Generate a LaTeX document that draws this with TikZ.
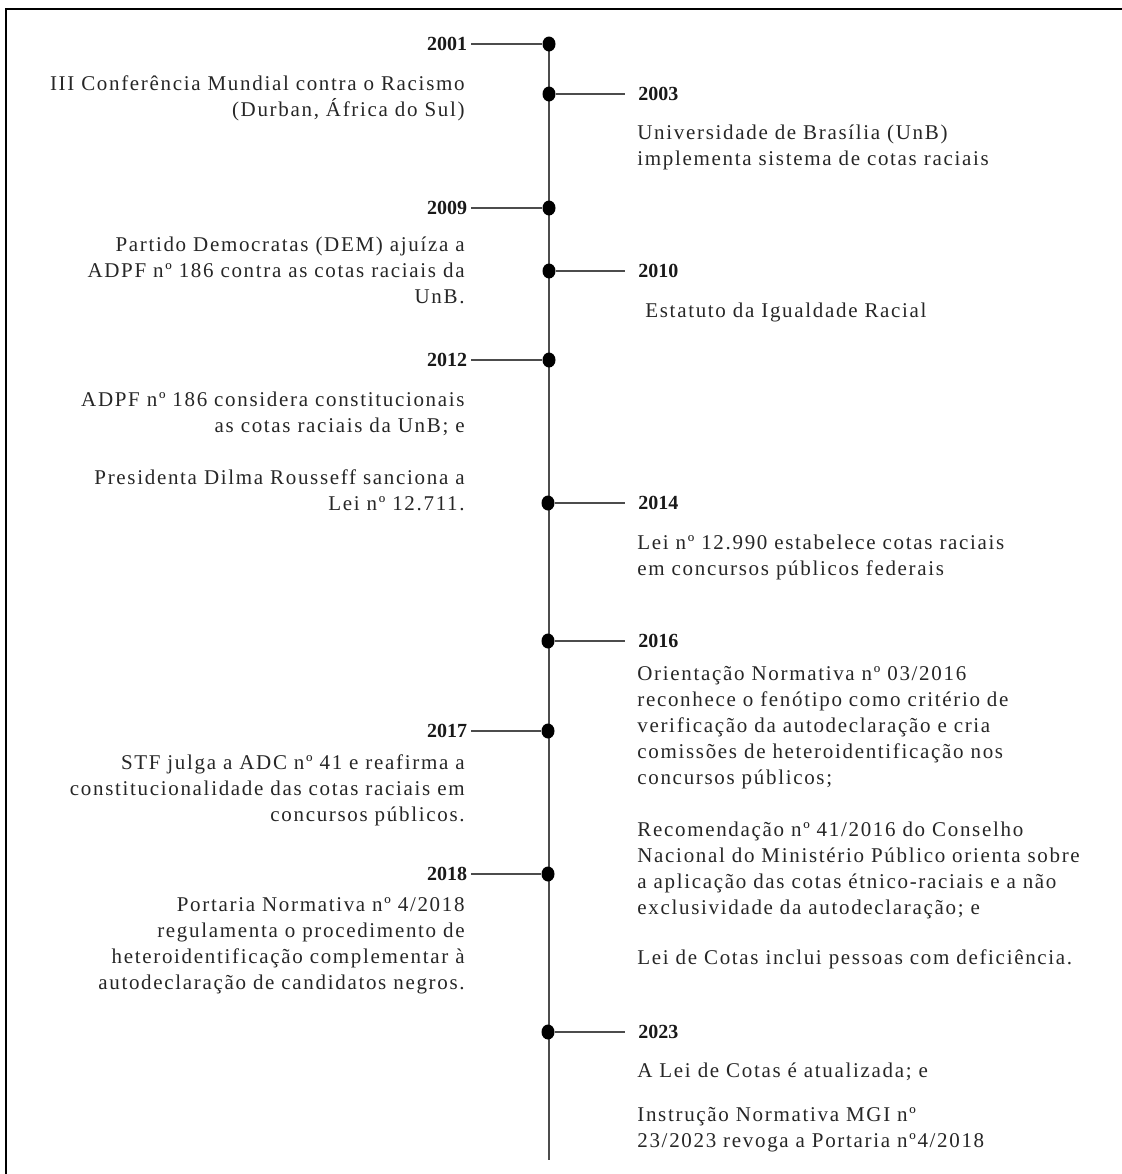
\documentclass[tikz,border=0pt]{standalone}
\usepackage{fontspec}
\setmainfont{Liberation Serif}[LetterSpace=8]
\newfontfamily\yearfont{Liberation Serif}
\usepackage{tikz}
\usetikzlibrary{shapes.geometric}

\begin{document}
\begin{tikzpicture}
  [x=0.5pt,y=-0.5pt]
      \tikzstyle{dot_style} = [fill=black, draw=none, ellipse, minimum width=6.5pt, minimum height=7.5pt, inner sep=0]
      \tikzstyle{line_style} = [draw=black!70, line width=1pt]
      \tikzstyle{year_left} = [anchor=east, inner xsep=1.75pt, inner ysep=0, text=black!90, font=\yearfont\bfseries\fontsize{10}{12}\selectfont]
      \tikzstyle{year_right} = [year_left, anchor=west, inner xsep=6.5pt]
      \tikzstyle{text_left} = [anchor=north east, align=right, inner sep=0, text=black!85, font=\fontsize{10.5}{13}\selectfont]
      \tikzstyle{text_right} = [text_left, anchor=north west, align=left]
  \useasboundingbox (0,0) rectangle (1122,1174);
  \draw[line width=1.2pt] (6,1190) -- (6,9) -- (1140,9);
  % timeline
  \coordinate (tl_end) at (549,1160);
  \draw[line_style] (549,44) -- (tl_end);
  % years on the left
  \node[year_left] (y2001) at (471,44) {2001};
  \node[year_left] (y2009) at (471,208) {2009};
  \node[year_left] (y2012) at (471,360) {2012};
  \node[year_left] (y2017) at (471,731) {2017};
  \node[year_left] (y2018) at (471,874) {2018};
  % years on the right
  \node[year_right] (y2003) at (625,94) {2003};
  \node[year_right] (y2010) at (625,271) {2010};
  \node[year_right] (y2014) at (625,503) {2014};
  \node[year_right] (y2016) at (625,641) {2016};
  \node[year_right] (y2023) at (625,1032) {2023};
  % dots
  \node[dot_style] (d2001) at (549,44) {};
  \node[dot_style] (d2003) at (549,94) {};
  \node[dot_style] (d2009) at (549,208) {};
  \node[dot_style] (d2010) at (549,271) {};
  \node[dot_style] (d2012) at (549,360) {};
  \node[dot_style] (d2014) at (548,503) {};
  \node[dot_style] (d2016) at (548,641) {};
  \node[dot_style] (d2017) at (548,731) {};
  \node[dot_style] (d2018) at (548,874) {};
  \node[dot_style] (d2023) at (548,1032) {};
  \draw[line_style] (y2001) -- (d2001);
  \draw[line_style] (y2009) -- (d2009);
  \draw[line_style] (y2012) -- (d2012);
  \draw[line_style] (y2017) -- (d2017);
  \draw[line_style] (y2018) -- (d2018);
  \draw[line_style] (d2003) -- (y2003);
  \draw[line_style] (d2010) -- (y2010);
  \draw[line_style] (d2014) -- (y2014);
  \draw[line_style] (d2016) -- (y2016);
  \draw[line_style] (d2023) -- (y2023);
  % texts
  \node[text_left] (t2001) at (465,72) {\strut III Conferência Mundial contra o Racismo\\(Durban, África do Sul)};
  \node[text_left] (t2009) at (465,233) {\strut Partido Democratas (DEM) ajuíza a\\ADPF nº 186 contra as cotas raciais da\\UnB.};
  \node[text_left] (t2012) at (465,388) {\strut ADPF nº 186 considera constitucionais\\as cotas raciais da UnB; e\\[13pt]Presidenta Dilma Rousseff sanciona a\\Lei nº 12.711.};
  \node[text_left] (t2017) at (465,751) {\strut STF julga a ADC nº 41 e reafirma a\\constitucionalidade das cotas raciais em\\concursos públicos.};
  \node[text_left] (t2018) at (465,893) {\strut Portaria Normativa nº 4/2018\\regulamenta o procedimento de\\heteroidentificação complementar à\\autodeclaração de candidatos negros.};
  \node[text_right] (t2003) at (637,121) {\strut Universidade de Brasília (UnB)\\implementa sistema de cotas raciais};
  \node[text_right] (t2010) at (645,299) {\strut Estatuto da Igualdade Racial};
  \node[text_right] (t2014) at (637,531) {\strut Lei nº 12.990 estabelece cotas raciais\\em concursos públicos federais};
  \node[text_right] (t2016) at (637,662) {\strut Orientação Normativa nº 03/2016\\reconhece o fenótipo como critério de\\verificação da autodeclaração e cria\\comissões de heteroidentificação nos\\concursos públicos;\\[13pt]Recomendação nº 41/2016 do Conselho\\Nacional do Ministério Público orienta sobre\\a aplicação das cotas étnico-raciais e a não\\exclusividade da autodeclaração; e\\[12pt]Lei de Cotas inclui pessoas com deficiência.};
  \node[text_right] (t2023) at (637,1059) {\strut A Lei de Cotas é atualizada; e\\[9pt]Instrução Normativa MGI nº\\23/2023 revoga a Portaria nº4/2018};
\end{tikzpicture}
\end{document}
